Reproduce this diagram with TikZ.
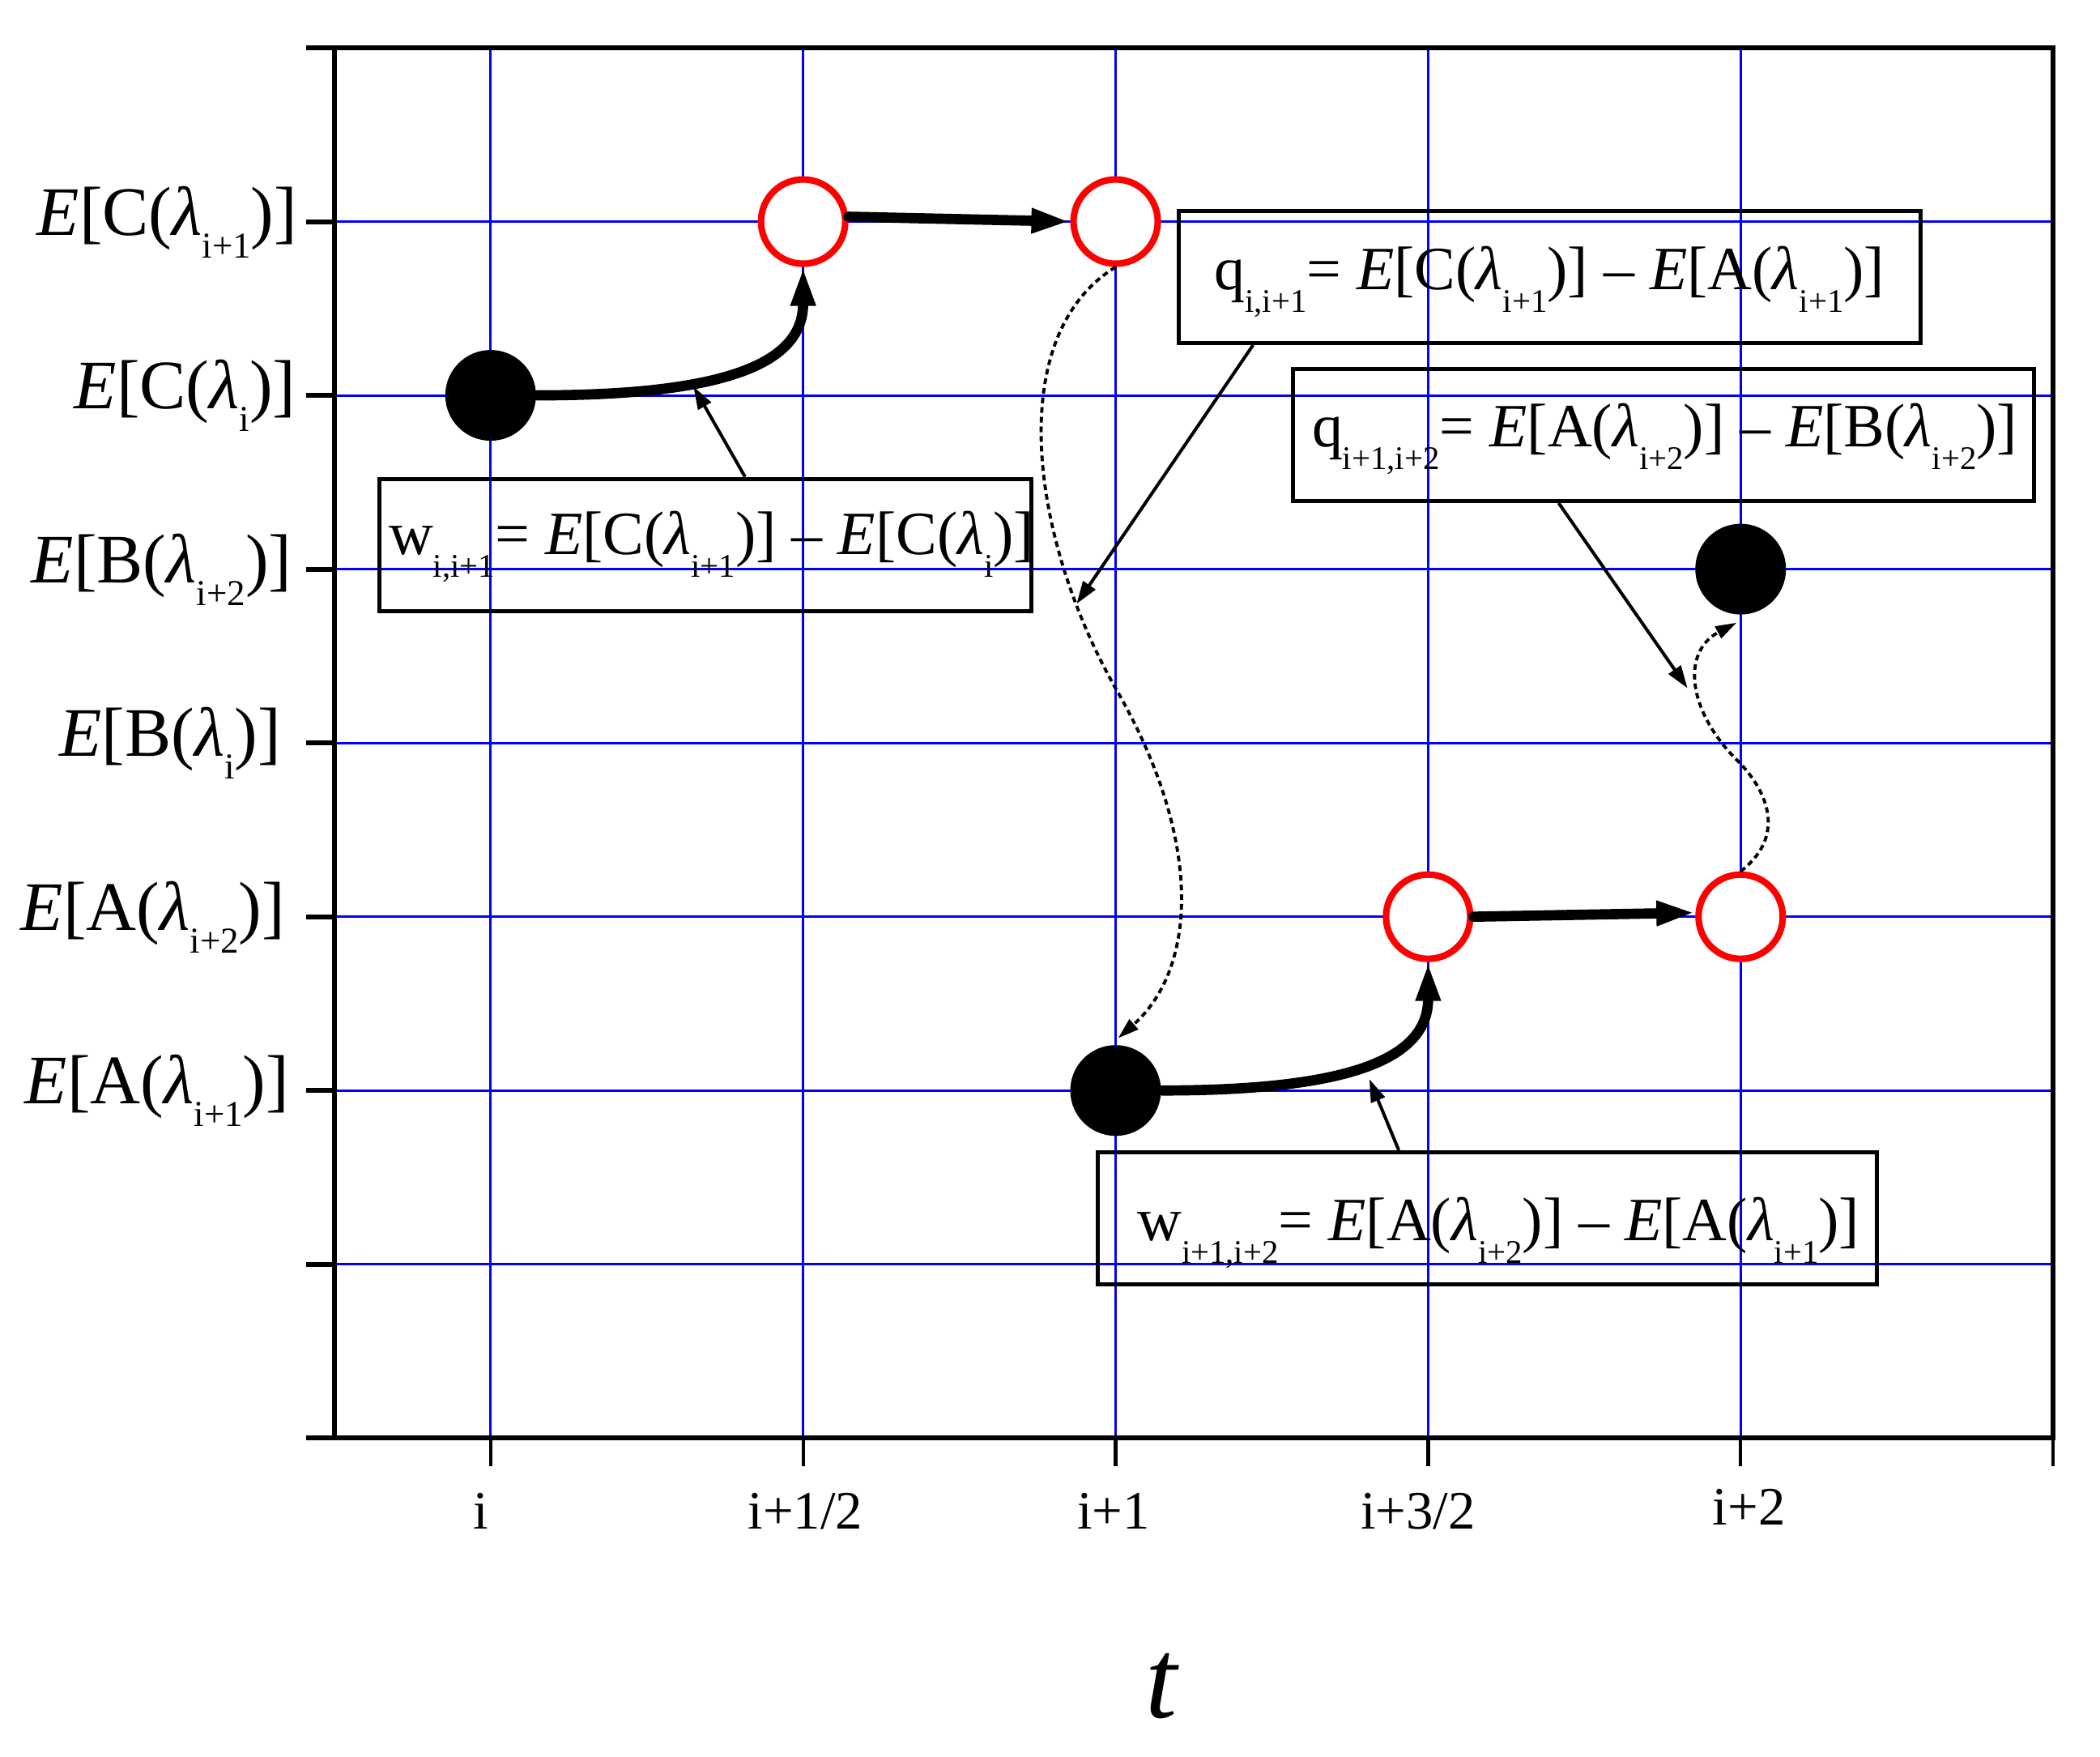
\documentclass[tikz,border=0pt]{standalone}
\usepackage{fontspec}
\setmainfont{Liberation Serif}
\usetikzlibrary{arrows.meta}

\newcommand{\subsz}{5.8}
\newcommand{\lsub}[1]{\raisebox{-4pt}{\fontsize{\subsz}{7}\selectfont #1}}
\newcommand{\expv}[2]{\textit{E}[#1(\textit{λ}\lsub{#2})]}

\begin{document}
\begin{tikzpicture}[x=1.929cm,y=1.0725cm,
grid line/.style={blue,line width=0.43pt},
frame line/.style={line width=0.85pt},
full dot/.style={circle,fill=black,inner sep=0pt,minimum size=0.56cm},
open dot/.style={circle,draw=red,fill=white,line width=1.15pt,inner sep=0pt,minimum size=0.52cm},
big arrow/.style={line width=1.8pt,line cap=round,-{Triangle[length=0.24cm,width=0.14cm]}},
note arrow/.style={line width=0.57pt,-{Triangle[length=0.14cm,width=0.09cm]}},
jump arrow/.style={line width=0.55pt,dash pattern=on 1pt off 0.7pt,-{Triangle[length=0.13cm,width=0.08cm]}},
formula box/.style={draw,line width=0.7pt,inner sep=0pt,minimum height=0.815cm},
formula/.style={anchor=base,inner sep=0pt,font=\fontsize{10.8}{13}\selectfont},
ylab/.style={anchor=base east,inner sep=0pt,font=\fontsize{12.2}{14}\selectfont\def\subsz{6.4}},
xlab/.style={anchor=base,inner sep=0pt,font=\fontsize{9.5}{11}\selectfont}]
\useasboundingbox (-1.570,-1.832) rectangle (5.150,8.275);

% grid, frame and ticks
\foreach \x in {0,...,4} \draw[grid line] (\x,0) -- (\x,8);
\foreach \y in {1,...,7} \draw[grid line] (-0.5,\y) -- (5,\y);
\draw[frame line] (-0.5,0) rectangle (5,8);
\foreach \y in {0,...,8} \draw[frame line] (-0.5,\y) -- (-0.59,\y);
\foreach \x in {0,...,5} \draw[line width=0.6pt] (\x,0) -- (\x,-0.163);

\node[ylab] (lc1) at (-0.615,6.923) {\expv{C}{i+1}};
\node[ylab] (lc0) at (-0.62,5.923) {\expv{C}{i}};
\node[ylab] (lb2) at (-0.633,4.923) {\expv{B}{i+2}};
\node[ylab] (lb0) at (-0.667,3.923) {\expv{B}{i}};
\node[ylab] (la2) at (-0.654,2.923) {\expv{A}{i+2}};
\node[ylab] (la1) at (-0.641,1.923) {\expv{A}{i+1}};

\node[xlab] (t0) at (-0.03,-0.524) {i};
\node[xlab] (t1) at (1.007,-0.524) {i+1/2};
\node[xlab] (t2) at (1.993,-0.524) {i+1};
\node[xlab] (t3) at (2.968,-0.524) {i+3/2};
\node[xlab] (t4) at (4.027,-0.50) {i+2};
\node[anchor=base,inner sep=0pt,font=\fontsize{20}{24}\selectfont\itshape] (taxis) at (2.146,-1.611) {t};

% states
\node[full dot] (c0) at (0,6) {};
\node[open dot] (o1) at (1,7) {};
\node[open dot] (o2) at (2,7) {};
\node[full dot] (c1) at (2,2) {};
\node[open dot] (o3) at (3,3) {};
\node[open dot] (o4) at (4,3) {};
\node[full dot] (c2) at (4,5) {};

\draw[big arrow] (c0.east) .. controls +(1.18cm,0) and +(0,-0.59cm) .. (o1.south);
\draw[big arrow] ([yshift=0.03cm]o1.east) -- (o2.west);
\draw[big arrow] (c1.east) .. controls +(1.18cm,0) and +(0,-0.59cm) .. (o3.south);
\draw[big arrow] (o3.east) -- ([yshift=0.025cm]o4.west);

\draw[jump arrow] (o2.south) .. controls (1.641,6.341) and (1.726,5.181) .. (2,4.314)
  .. controls (2.282,3.439) and (2.261,2.704) .. (2.008,2.301);
\draw[jump arrow] (o4.north) .. controls (4.128,3.439) and (4.107,3.671) .. (4,3.880)
  .. controls (3.829,4.174) and (3.808,4.522) .. (3.987,4.692);

% formulas
\node[formula box,minimum width=4.025cm] (w1) at (0.688,5.14) {};
\node[formula] (w1 text) at (0.707,5.083) {w\lsub{i,i+1}= \expv{C}{i+1} – \expv{C}{i}};
\node[formula box,minimum width=4.579cm] (q1) at (3.390,6.681) {};
\node[formula] (q1 text) at (3.388,6.6075) {q\lsub{i,i+1}= \expv{C}{i+1} – \expv{A}{i+1}};
\node[formula box,minimum width=4.571cm] (q2) at (3.753,5.772) {};
\node[formula] (q2 text) at (3.757,5.704) {q\lsub{i+1,i+2}= \expv{A}{i+2} – \expv{B}{i+2}};
\node[formula box,minimum width=4.81cm] (w2) at (3.189,1.265) {};
\node[formula] (w2 text) at (3.225,1.1375) {w\lsub{i+1,i+2}= \expv{A}{i+2} – \expv{A}{i+1}};

\coordinate (w1 tip) at (0.649,6.051);
\coordinate (w2 tip) at (2.812,2.065);
\coordinate (q1 tip) at (1.875,4.80);
\coordinate (q2 tip) at (3.83,4.315);
\draw[note arrow] ([xshift=0.243cm]w1.north) -- (w1 tip);
\draw[note arrow] ([xshift=-0.546cm]w2.north) -- (w2 tip);
\draw[note arrow] ([xshift=-1.833cm]q1.south) -- (q1 tip);
\draw[note arrow] ([xshift=-0.647cm]q2.south) -- (q2 tip);
\end{tikzpicture}
\end{document}
